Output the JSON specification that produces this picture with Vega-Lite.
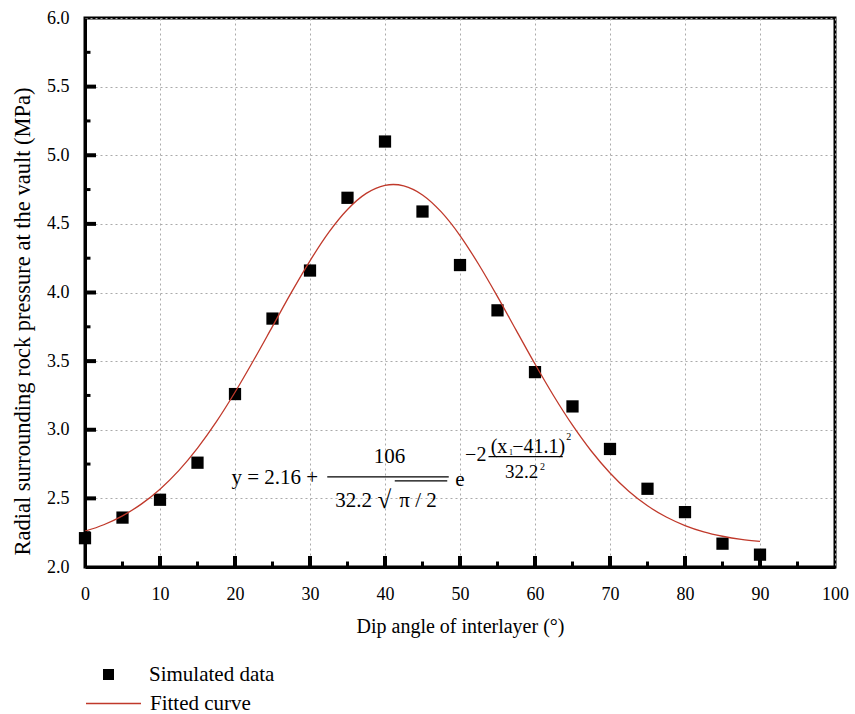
{
  "$schema": "https://vega.github.io/schema/vega-lite/v6.json",
  "width": 750,
  "height": 549,
  "autosize": {"type": "none"},
  "padding": {"left": 85, "top": 18, "right": 20, "bottom": 147},
  "background": "white",
  "config": {
    "view": {"stroke": "black", "strokeWidth": 3},
    "font": "Liberation Serif"
  },
  "datasets": {
    "sim": [
      {"angle": 0, "pressure": 2.21},
      {"angle": 5, "pressure": 2.36},
      {"angle": 10, "pressure": 2.49},
      {"angle": 15, "pressure": 2.76},
      {"angle": 20, "pressure": 3.26},
      {"angle": 25, "pressure": 3.81},
      {"angle": 30, "pressure": 4.16},
      {"angle": 35, "pressure": 4.69},
      {"angle": 40, "pressure": 5.10},
      {"angle": 45, "pressure": 4.59},
      {"angle": 50, "pressure": 4.20},
      {"angle": 55, "pressure": 3.87},
      {"angle": 60, "pressure": 3.42},
      {"angle": 65, "pressure": 3.17},
      {"angle": 70, "pressure": 2.86},
      {"angle": 75, "pressure": 2.57},
      {"angle": 80, "pressure": 2.40},
      {"angle": 85, "pressure": 2.17},
      {"angle": 90, "pressure": 2.09}
    ],
    "fit": [
      {"angle": 0, "pressure": 2.261},
      {"angle": 2.5, "pressure": 2.308},
      {"angle": 5, "pressure": 2.373},
      {"angle": 7.5, "pressure": 2.458},
      {"angle": 10, "pressure": 2.567},
      {"angle": 12.5, "pressure": 2.702},
      {"angle": 15, "pressure": 2.866},
      {"angle": 17.5, "pressure": 3.057},
      {"angle": 20, "pressure": 3.273},
      {"angle": 22.5, "pressure": 3.508},
      {"angle": 25, "pressure": 3.753},
      {"angle": 27.5, "pressure": 3.999},
      {"angle": 30, "pressure": 4.231},
      {"angle": 32.5, "pressure": 4.438},
      {"angle": 35, "pressure": 4.605},
      {"angle": 37.5, "pressure": 4.722},
      {"angle": 40, "pressure": 4.781},
      {"angle": 41.1, "pressure": 4.787},
      {"angle": 42.5, "pressure": 4.777},
      {"angle": 45, "pressure": 4.711},
      {"angle": 47.5, "pressure": 4.587},
      {"angle": 50, "pressure": 4.415},
      {"angle": 52.5, "pressure": 4.204},
      {"angle": 55, "pressure": 3.970},
      {"angle": 57.5, "pressure": 3.724},
      {"angle": 60, "pressure": 3.479},
      {"angle": 62.5, "pressure": 3.246},
      {"angle": 65, "pressure": 3.033},
      {"angle": 67.5, "pressure": 2.845},
      {"angle": 70, "pressure": 2.685},
      {"angle": 72.5, "pressure": 2.552},
      {"angle": 75, "pressure": 2.446},
      {"angle": 77.5, "pressure": 2.364},
      {"angle": 80, "pressure": 2.302},
      {"angle": 82.5, "pressure": 2.256},
      {"angle": 85, "pressure": 2.224},
      {"angle": 87.5, "pressure": 2.201},
      {"angle": 90, "pressure": 2.186}
    ],
    "xmajor": [{"v": 10}, {"v": 20}, {"v": 30}, {"v": 40}, {"v": 50}, {"v": 60}, {"v": 70}, {"v": 80}, {"v": 90}],
    "xminor": [{"v": 5}, {"v": 15}, {"v": 25}, {"v": 35}, {"v": 45}, {"v": 55}, {"v": 65}, {"v": 75}, {"v": 85}, {"v": 95}],
    "ymajor": [{"v": 2.5}, {"v": 3.0}, {"v": 3.5}, {"v": 4.0}, {"v": 4.5}, {"v": 5.0}, {"v": 5.5}],
    "yminor": [{"v": 2.25}, {"v": 2.75}, {"v": 3.25}, {"v": 3.75}, {"v": 4.25}, {"v": 4.75}, {"v": 5.25}, {"v": 5.75}],
    "eqText": [
      {"x": 25.3, "y": 2.645, "t": "y = 2.16 +", "size": 21, "style": "normal"},
      {"x": 40.6, "y": 2.800, "t": "106", "size": 21, "style": "normal"},
      {"x": 35.8, "y": 2.478, "t": "32.2", "size": 21, "style": "normal"},
      {"x": 39.9, "y": 2.490, "t": "√", "size": 25, "style": "normal"},
      {"x": 44.4, "y": 2.478, "t": "π / 2", "size": 21, "style": "normal"},
      {"x": 50.0, "y": 2.632, "t": "e", "size": 21, "style": "italic"},
      {"x": 52.1, "y": 2.818, "t": "−2", "size": 20, "style": "normal"},
      {"x": 55.2, "y": 2.874, "t": "(x", "size": 20, "style": "italic"},
      {"x": 56.8, "y": 2.830, "t": "1", "size": 8, "style": "normal"},
      {"x": 60.5, "y": 2.874, "t": "−41.1)", "size": 20, "style": "normal"},
      {"x": 64.5, "y": 2.945, "t": "2", "size": 10, "style": "normal"},
      {"x": 58.2, "y": 2.692, "t": "32.2", "size": 19, "style": "normal"},
      {"x": 61.0, "y": 2.725, "t": "2", "size": 10, "style": "normal"}
    ],
    "eqRules": [
      {"x": 32.3, "x2": 48.5, "y": 2.656},
      {"x": 41.3, "x2": 48.3, "y": 2.628},
      {"x": 53.8, "x2": 63.7, "y": 2.804}
    ]
  },
  "resolve": {"axis": {"x": "independent", "y": "independent"}},
  "layer": [
    {
      "data": {"name": "sim"},
      "mark": {"type": "point", "shape": "square", "filled": true, "size": 150, "opacity": 1},
      "encoding": {
        "x": {
          "field": "angle", "type": "quantitative",
          "scale": {"domain": [0, 100], "nice": false, "zero": false},
          "axis": {
            "orient": "bottom",
            "title": "Dip angle of interlayer (°)",
            "titleFont": "Liberation Serif", "titleFontSize": 20, "titleFontWeight": "normal", "titleColor": "black",
            "titleX": 375, "titleY": 59, "titleBaseline": "middle", "titleAlign": "center",
            "values": [0,10,20,30,40,50,60,70,80,90,100],
            "labelFont": "Liberation Serif", "labelFontSize": 18, "labelColor": "black",
            "labelPadding": 18, "labelFlush": false, "labelOverlap": false,
            "domainColor": "black", "domainWidth": 3, "ticks": false,
            "grid": true, "gridColor": "#aaaaaa", "gridDash": [2, 3], "gridWidth": 1
          }
        },
        "y": {
          "field": "pressure", "type": "quantitative",
          "scale": {"domain": [2, 6], "nice": false, "zero": false},
          "axis": {
            "orient": "left",
            "title": "Radial surrounding rock pressure at the vault (MPa)",
            "titleFont": "Liberation Serif", "titleFontSize": 22.5, "titleFontWeight": "normal", "titleColor": "black",
            "titleX": -63, "titleY": 303, "titleBaseline": "middle", "titleAlign": "center", "titleAngle": -90,
            "values": [2,2.5,3,3.5,4,4.5,5,5.5,6],
            "format": ".1f",
            "labelFont": "Liberation Serif", "labelFontSize": 18, "labelColor": "black",
            "labelPadding": 16, "labelFlush": false, "labelOverlap": false,
            "domainColor": "black", "domainWidth": 3, "ticks": false,
            "grid": true, "gridColor": "#aaaaaa", "gridDash": [2, 3], "gridWidth": 1
          }
        },
        "shape": {
          "datum": "Simulated data",
          "scale": {"range": ["square"]},
          "legend": {
            "title": null, "orient": "none", "legendX": 13, "legendY": 646,
            "symbolFillColor": "black", "symbolStrokeColor": "black", "symbolSize": 121, "symbolStrokeWidth": 0,
            "labelFont": "Liberation Serif", "labelFontSize": 21, "labelColor": "black", "labelOffset": 30
          }
        },
        "color": {"value": "black"}
      }
    },
    {
      "data": {"name": "fit"},
      "mark": {"type": "line", "strokeWidth": 1.3, "interpolate": "monotone"},
      "encoding": {
        "x": {"field": "angle", "type": "quantitative", "axis": null},
        "y": {"field": "pressure", "type": "quantitative", "axis": null},
        "color": {
          "datum": "Fitted curve",
          "scale": {"range": ["#c0392b"]},
          "legend": {
            "title": null, "orient": "none", "legendX": 0, "legendY": 657,
            "symbolType": "stroke", "symbolSize": 3025, "symbolStrokeWidth": 1.3,
            "labelFont": "Liberation Serif", "labelFontSize": 21, "labelColor": "black", "labelOffset": 8
          }
        }
      }
    },
    {
      "data": {"name": "xmajor"},
      "mark": {"type": "rule", "color": "black", "strokeWidth": 4},
      "encoding": {
        "x": {"field": "v", "type": "quantitative", "axis": null},
        "y": {"datum": 2, "type": "quantitative", "axis": null},
        "y2": {"datum": 2.08}
      }
    },
    {
      "data": {"name": "xminor"},
      "mark": {"type": "rule", "color": "black", "strokeWidth": 3},
      "encoding": {
        "x": {"field": "v", "type": "quantitative", "axis": null},
        "y": {"datum": 2, "type": "quantitative", "axis": null},
        "y2": {"datum": 2.04}
      }
    },
    {
      "data": {"name": "ymajor"},
      "mark": {"type": "rule", "color": "black", "strokeWidth": 4},
      "encoding": {
        "y": {"field": "v", "type": "quantitative", "axis": null},
        "x": {"datum": 0, "type": "quantitative", "axis": null},
        "x2": {"datum": 1.47}
      }
    },
    {
      "data": {"name": "yminor"},
      "mark": {"type": "rule", "color": "black", "strokeWidth": 3},
      "encoding": {
        "y": {"field": "v", "type": "quantitative", "axis": null},
        "x": {"datum": 0, "type": "quantitative", "axis": null},
        "x2": {"datum": 0.73}
      }
    },
    {
      "data": {"name": "eqText"},
      "mark": {"type": "text", "font": "Liberation Serif", "color": "black", "baseline": "middle", "align": "center"},
      "encoding": {
        "x": {"field": "x", "type": "quantitative", "axis": null},
        "y": {"field": "y", "type": "quantitative", "axis": null},
        "text": {"field": "t"},
        "size": {"field": "size", "type": "quantitative", "scale": null},
        "fontStyle": {"field": "style", "type": "nominal", "scale": null}
      }
    },
    {
      "data": {"name": "eqRules"},
      "mark": {"type": "rule", "color": "black", "strokeWidth": 1.2},
      "encoding": {
        "x": {"field": "x", "type": "quantitative", "axis": null},
        "x2": {"field": "x2"},
        "y": {"field": "y", "type": "quantitative", "axis": null}
      }
    }
  ]
}
